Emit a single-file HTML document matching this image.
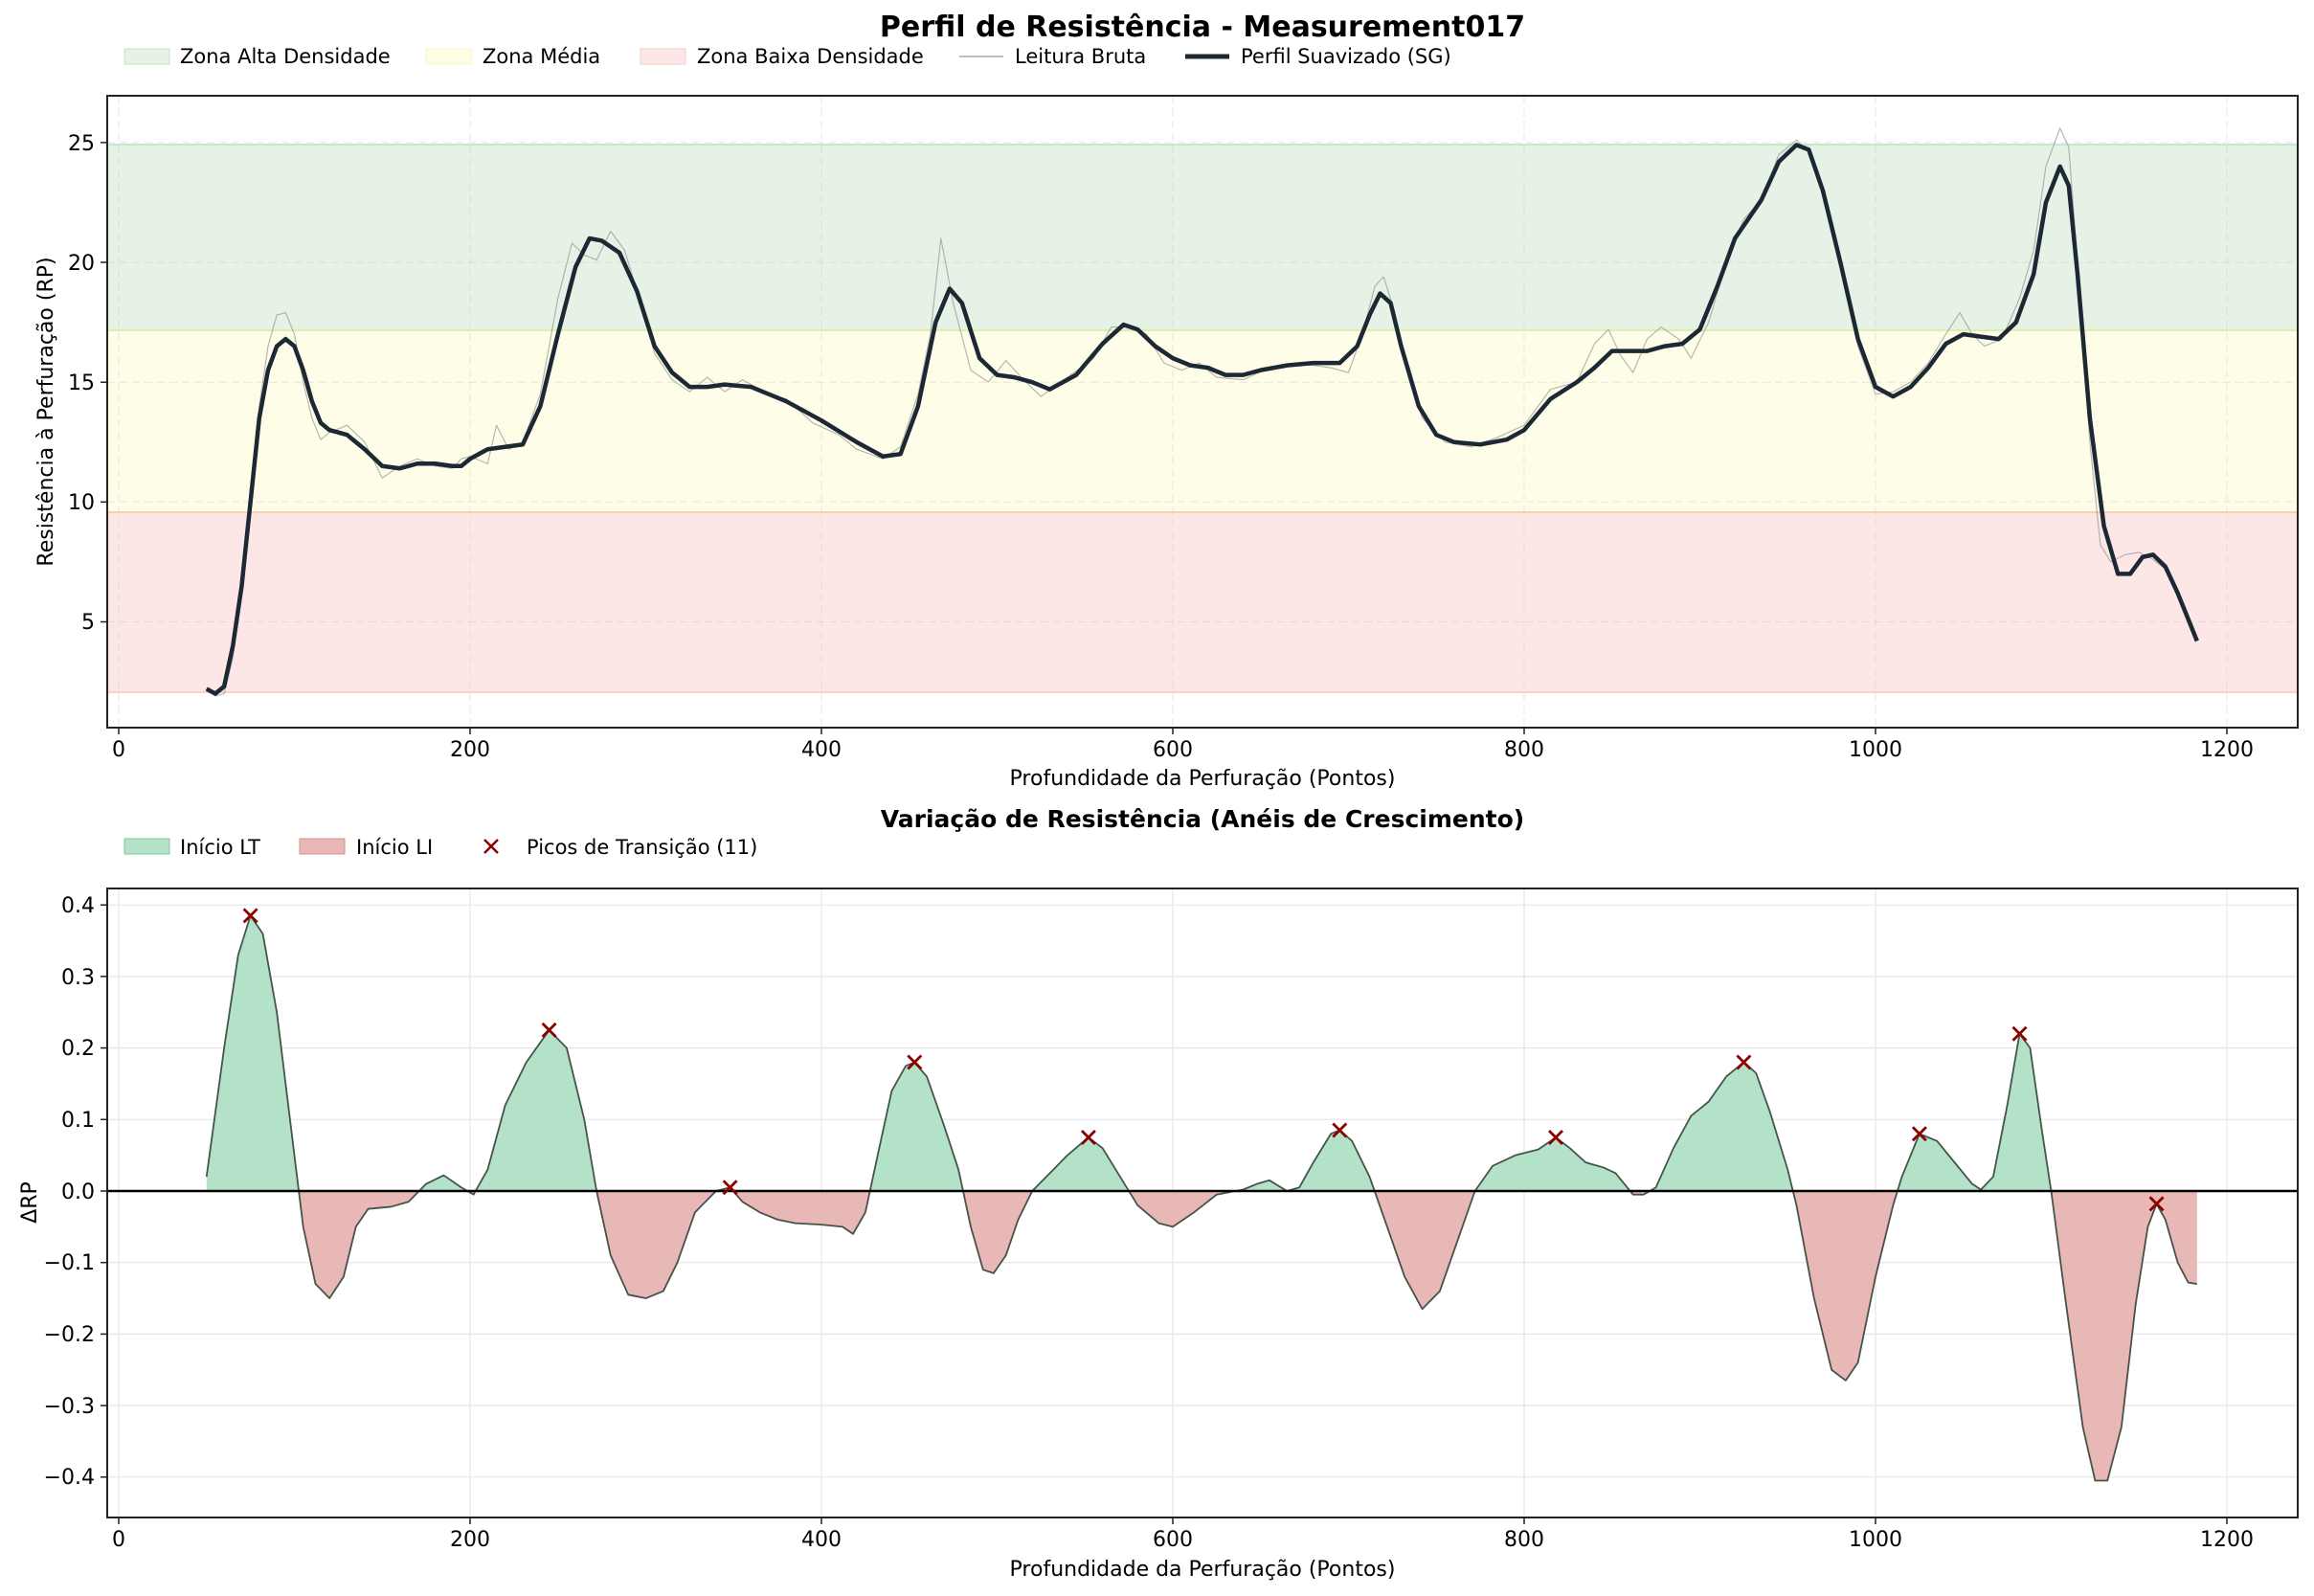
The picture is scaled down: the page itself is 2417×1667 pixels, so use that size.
<!DOCTYPE html>
<html><head><meta charset="utf-8"><style>
html,body{margin:0;padding:0;background:#fff}
svg{display:block}
text{font-family:"DejaVu Sans","Liberation Sans",sans-serif;fill:#000}
</style></head><body>
<svg width="2417" height="1667" viewBox="0 0 2417 1667" xmlns="http://www.w3.org/2000/svg">
<defs>
<clipPath id="c1"><rect x="112" y="100" width="2288" height="660"/></clipPath>
<clipPath id="c2"><rect x="112" y="928" width="2288" height="657"/></clipPath>
<clipPath id="pos"><rect x="112" y="928" width="2288" height="316"/></clipPath>
<clipPath id="neg"><rect x="112" y="1244" width="2288" height="341"/></clipPath>
</defs>
<rect width="2417" height="1667" fill="#fff"/>

<!-- TOP -->
<text x="1256" y="38" font-size="30" font-weight="bold" text-anchor="middle">Perfil de Resistência - Measurement017</text>
<g font-size="21">
<rect x="130" y="51" width="47" height="16" fill="#e5f2e5" stroke="#c5e3c5"/><text x="188" y="66">Zona Alta Densidade</text>
<rect x="445" y="51" width="47" height="16" fill="#fefee5" stroke="#f7f7c8"/><text x="504" y="66">Zona Média</text>
<rect x="669" y="51" width="47" height="16" fill="#fde6e6" stroke="#f8caca"/><text x="728" y="66">Zona Baixa Densidade</text>
<line x1="1002" y1="59" x2="1048" y2="59" stroke="#aaa" stroke-width="1.5"/><text x="1060" y="66">Leitura Bruta</text>
<line x1="1238" y1="59" x2="1284" y2="59" stroke="#1c2833" stroke-width="5"/><text x="1296" y="66">Perfil Suavizado (SG)</text>
</g>
<g clip-path="url(#c1)">
<rect x="112" y="151" width="2288" height="194" fill="#e5f2e5"/>
<line x1="112" y1="151" x2="2400" y2="151" stroke="#c8e6c8" stroke-width="2"/>
<rect x="112" y="345" width="2288" height="190" fill="#fefee8"/>
<line x1="112" y1="345" x2="2400" y2="345" stroke="#dfeeb0" stroke-width="2"/>
<rect x="112" y="535" width="2288" height="188" fill="#fde6e6"/>
<line x1="112" y1="535" x2="2400" y2="535" stroke="#f8d0b0" stroke-width="2"/>
<line x1="112" y1="723" x2="2400" y2="723" stroke="#f8d0d0" stroke-width="2"/>
<g stroke="#ccc" stroke-opacity="0.5" stroke-dasharray="8,5" stroke-width="1">
<line x1="124" y1="100" x2="124" y2="760"/><line x1="491" y1="100" x2="491" y2="760"/><line x1="858" y1="100" x2="858" y2="760"/><line x1="1225" y1="100" x2="1225" y2="760"/><line x1="1592" y1="100" x2="1592" y2="760"/><line x1="1959" y1="100" x2="1959" y2="760"/><line x1="2326" y1="100" x2="2326" y2="760"/>
<line x1="112" y1="649.5" x2="2400" y2="649.5"/><line x1="112" y1="524.3" x2="2400" y2="524.3"/><line x1="112" y1="399.2" x2="2400" y2="399.2"/><line x1="112" y1="274" x2="2400" y2="274"/><line x1="112" y1="148.9" x2="2400" y2="148.9"/>
</g>
<g transform="translate(124,774.6) scale(1.835,-25.03)" fill="none">
<path vector-effect="non-scaling-stroke" stroke="#999" stroke-opacity="0.7" stroke-width="1.2" stroke-linejoin="round" d="M50,2.2 L55,1.9 60,2.0 65,3.5 70,6.8 75,10.5 80,14 85,16.5 90,17.8 95,17.9 100,17 105,15 110,13.5 115,12.6 120,12.9 130,13.2 140,12.5 150,11.0 160,11.5 170,11.8 180,11.5 190,11.4 195,11.8 200,11.9 210,11.6 215,13.2 222,12.2 230,12.5 240,14.5 250,18.5 258,20.8 265,20.3 272,20.1 280,21.3 288,20.5 295,18.8 305,16.2 315,15.1 325,14.6 335,15.2 345,14.6 355,15.1 370,14.5 380,14.3 395,13.3 410,12.8 420,12.2 435,11.8 445,12.3 455,14.5 462,17 468,21 475,18.3 485,15.5 495,15 505,15.9 515,15.1 525,14.4 540,15.2 555,16 565,17.3 575,17.3 585,17 595,15.8 605,15.5 615,15.8 625,15.2 640,15.1 655,15.6 670,15.8 690,15.6 700,15.4 708,17 715,19 720,19.4 726,18 732,15.8 742,13.5 755,12.5 770,12.3 785,12.7 800,13.2 815,14.7 830,15.0 840,16.6 848,17.2 855,16.1 862,15.4 870,16.8 878,17.3 888,16.8 895,16 905,17.5 915,20 925,21.8 935,22.6 945,24.5 955,25.1 962,24.6 970,23 980,20 990,16.5 1000,14.5 1010,14.6 1020,15 1030,15.8 1040,17 1048,17.9 1055,17 1062,16.5 1072,16.8 1082,18.5 1090,20.5 1097,24 1105,25.6 1110,24.8 1116,19 1122,12.5 1128,8.2 1134,7.5 1142,7.8 1150,7.9 1158,7.6 1165,7.2 1172,6.2 1183,4.2"/>
<path vector-effect="non-scaling-stroke" stroke="#1c2833" stroke-width="4.5" stroke-linejoin="round" d="M50,2.2 L55,2.0 60,2.3 65,4 70,6.5 75,10 80,13.5 85,15.5 90,16.5 95,16.8 100,16.5 105,15.5 110,14.2 115,13.3 120,13.0 130,12.8 140,12.2 150,11.5 160,11.4 170,11.6 180,11.6 190,11.5 195,11.5 200,11.8 210,12.2 220,12.3 230,12.4 240,14 250,17 260,19.8 268,21.0 275,20.9 285,20.4 295,18.8 305,16.5 315,15.4 325,14.8 335,14.8 345,14.9 360,14.8 380,14.2 400,13.4 420,12.5 435,11.9 445,12.0 455,14 465,17.5 473,18.9 480,18.3 490,16 500,15.3 510,15.2 520,15.0 530,14.7 545,15.3 560,16.6 572,17.4 580,17.2 590,16.5 600,16.0 610,15.7 620,15.6 630,15.3 640,15.3 650,15.5 665,15.7 680,15.8 695,15.8 705,16.5 712,17.8 718,18.7 724,18.3 730,16.5 740,14 750,12.8 760,12.5 775,12.4 790,12.6 800,13.0 815,14.3 830,15.0 840,15.6 850,16.3 860,16.3 870,16.3 880,16.5 890,16.6 900,17.2 910,19 920,21 935,22.6 945,24.2 955,24.9 962,24.7 970,23 980,20 990,16.8 1000,14.8 1010,14.4 1020,14.8 1030,15.6 1040,16.6 1050,17.0 1060,16.9 1070,16.8 1080,17.5 1090,19.5 1097,22.5 1105,24.0 1110,23.2 1115,19.5 1122,13.5 1130,9.0 1138,7.0 1145,7.0 1152,7.7 1158,7.8 1165,7.3 1172,6.2 1183,4.2"/>
</g>
</g>
<rect x="112" y="100" width="2288" height="660" fill="none" stroke="#222" stroke-width="2"/>
<g stroke="#222" stroke-width="1.5">
<line x1="124" y1="760" x2="124" y2="767"/><line x1="491" y1="760" x2="491" y2="767"/><line x1="858" y1="760" x2="858" y2="767"/><line x1="1225" y1="760" x2="1225" y2="767"/><line x1="1592" y1="760" x2="1592" y2="767"/><line x1="1959" y1="760" x2="1959" y2="767"/><line x1="2326" y1="760" x2="2326" y2="767"/>
<line x1="105" y1="649.5" x2="112" y2="649.5"/><line x1="105" y1="524.3" x2="112" y2="524.3"/><line x1="105" y1="399.2" x2="112" y2="399.2"/><line x1="105" y1="274" x2="112" y2="274"/><line x1="105" y1="148.9" x2="112" y2="148.9"/>
</g>
<g font-size="22" text-anchor="middle">
<text x="124" y="790">0</text><text x="491" y="790">200</text><text x="858" y="790">400</text><text x="1225" y="790">600</text><text x="1592" y="790">800</text><text x="1959" y="790">1000</text><text x="2326" y="790">1200</text>
<text x="1256" y="820">Profundidade da Perfuração (Pontos)</text>
</g>
<g font-size="22" text-anchor="end">
<text x="99" y="657">5</text><text x="99" y="532">10</text><text x="99" y="407">15</text><text x="99" y="282">20</text><text x="99" y="157">25</text>
</g>
<text transform="translate(55,430) rotate(-90)" font-size="22" text-anchor="middle">Resistência à Perfuração (RP)</text>

<!-- BOTTOM -->
<text x="1256" y="864" font-size="25" font-weight="bold" text-anchor="middle">Variação de Resistência (Anéis de Crescimento)</text>
<g font-size="21">
<rect x="130" y="876" width="47" height="16" fill="#b3e2c8" stroke="#7fc8a0"/><text x="188" y="892">Início LT</text>
<rect x="313" y="876" width="47" height="16" fill="#e8b8b6" stroke="#d09090"/><text x="372" y="892">Início LI</text>
<path d="M506,877 L520,891 M520,877 L506,891" stroke="#8b0000" stroke-width="2.5"/><text x="550" y="892">Picos de Transição (11)</text>
</g>
<defs>
<path id="dp" d="M50,0 L50,0.02 60,0.2 68,0.33 75,0.385 82,0.36 90,0.25 100,0.05 105,-0.05 112,-0.13 120,-0.15 128,-0.12 135,-0.05 142,-0.025 155,-0.022 165,-0.015 175,0.01 185,0.022 195,0.005 202,-0.005 210,0.03 220,0.12 232,0.18 245,0.225 255,0.2 265,0.1 272,0 280,-0.09 290,-0.145 300,-0.15 310,-0.14 318,-0.1 328,-0.03 340,0 348,0.005 355,-0.015 365,-0.03 375,-0.04 385,-0.045 400,-0.047 412,-0.05 418,-0.06 425,-0.03 432,0.05 440,0.14 448,0.175 453,0.18 460,0.16 470,0.09 478,0.03 485,-0.05 492,-0.11 498,-0.115 505,-0.09 512,-0.04 520,0 530,0.025 540,0.05 552,0.075 560,0.06 570,0.02 580,-0.02 592,-0.045 600,-0.05 612,-0.03 625,-0.005 640,0.002 648,0.01 655,0.015 665,0 672,0.005 680,0.04 690,0.08 695,0.085 702,0.07 712,0.02 722,-0.05 732,-0.12 742,-0.165 752,-0.14 762,-0.07 772,0 782,0.035 795,0.05 808,0.058 818,0.075 826,0.06 835,0.04 845,0.033 852,0.025 862,-0.005 868,-0.005 875,0.005 885,0.06 895,0.105 905,0.125 915,0.16 925,0.18 932,0.165 940,0.11 950,0.03 955,-0.02 965,-0.15 975,-0.25 983,-0.265 990,-0.24 1000,-0.12 1010,-0.02 1015,0.02 1025,0.08 1035,0.07 1045,0.04 1055,0.01 1060,0.002 1067,0.02 1075,0.12 1082,0.22 1088,0.2 1095,0.08 1100,0 1108,-0.15 1118,-0.33 1125,-0.405 1132,-0.405 1140,-0.33 1148,-0.16 1155,-0.05 1160,-0.018 1165,-0.04 1172,-0.1 1178,-0.128 1183,-0.13 L1183,0 Z"/>
</defs>
<g clip-path="url(#c2)">
<g stroke="#e6e6e6" stroke-width="1.2">
<line x1="124" y1="928" x2="124" y2="1585"/><line x1="491" y1="928" x2="491" y2="1585"/><line x1="858" y1="928" x2="858" y2="1585"/><line x1="1225" y1="928" x2="1225" y2="1585"/><line x1="1592" y1="928" x2="1592" y2="1585"/><line x1="1959" y1="928" x2="1959" y2="1585"/><line x1="2326" y1="928" x2="2326" y2="1585"/>
<line x1="112" y1="945.2" x2="2400" y2="945.2"/><line x1="112" y1="1019.9" x2="2400" y2="1019.9"/><line x1="112" y1="1094.6" x2="2400" y2="1094.6"/><line x1="112" y1="1169.3" x2="2400" y2="1169.3"/><line x1="112" y1="1318.7" x2="2400" y2="1318.7"/><line x1="112" y1="1393.4" x2="2400" y2="1393.4"/><line x1="112" y1="1468.1" x2="2400" y2="1468.1"/><line x1="112" y1="1542.8" x2="2400" y2="1542.8"/>
</g>
</g>
<g clip-path="url(#pos)"><g transform="translate(124,1244) scale(1.835,-747)"><use href="#dp" fill="#b3e2c8"/></g></g>
<g clip-path="url(#neg)"><g transform="translate(124,1244) scale(1.835,-747)"><use href="#dp" fill="#e8b8b6"/></g></g>
<g transform="translate(124,1244) scale(1.835,-747)">
<path vector-effect="non-scaling-stroke" fill="none" stroke="#2a3a30" stroke-opacity="0.85" stroke-width="1.8" stroke-linejoin="round" d="M50,0.02 L60,0.2 68,0.33 75,0.385 82,0.36 90,0.25 100,0.05 105,-0.05 112,-0.13 120,-0.15 128,-0.12 135,-0.05 142,-0.025 155,-0.022 165,-0.015 175,0.01 185,0.022 195,0.005 202,-0.005 210,0.03 220,0.12 232,0.18 245,0.225 255,0.2 265,0.1 272,0 280,-0.09 290,-0.145 300,-0.15 310,-0.14 318,-0.1 328,-0.03 340,0 348,0.005 355,-0.015 365,-0.03 375,-0.04 385,-0.045 400,-0.047 412,-0.05 418,-0.06 425,-0.03 432,0.05 440,0.14 448,0.175 453,0.18 460,0.16 470,0.09 478,0.03 485,-0.05 492,-0.11 498,-0.115 505,-0.09 512,-0.04 520,0 530,0.025 540,0.05 552,0.075 560,0.06 570,0.02 580,-0.02 592,-0.045 600,-0.05 612,-0.03 625,-0.005 640,0.002 648,0.01 655,0.015 665,0 672,0.005 680,0.04 690,0.08 695,0.085 702,0.07 712,0.02 722,-0.05 732,-0.12 742,-0.165 752,-0.14 762,-0.07 772,0 782,0.035 795,0.05 808,0.058 818,0.075 826,0.06 835,0.04 845,0.033 852,0.025 862,-0.005 868,-0.005 875,0.005 885,0.06 895,0.105 905,0.125 915,0.16 925,0.18 932,0.165 940,0.11 950,0.03 955,-0.02 965,-0.15 975,-0.25 983,-0.265 990,-0.24 1000,-0.12 1010,-0.02 1015,0.02 1025,0.08 1035,0.07 1045,0.04 1055,0.01 1060,0.002 1067,0.02 1075,0.12 1082,0.22 1088,0.2 1095,0.08 1100,0 1108,-0.15 1118,-0.33 1125,-0.405 1132,-0.405 1140,-0.33 1148,-0.16 1155,-0.05 1160,-0.018 1165,-0.04 1172,-0.1 1178,-0.128 1183,-0.13"/>
</g>
<line x1="112" y1="1244" x2="2400" y2="1244" stroke="#000" stroke-width="2.5"/>
<g stroke="#8b0000" stroke-width="2.8">
<path d="M254.6,949.4 l14,14 m0,-14 l-14,14"/>
<path d="M566.6,1068.9 l14,14 m0,-14 l-14,14"/>
<path d="M755.6,1233.3 l14,14 m0,-14 l-14,14"/>
<path d="M948.3,1102.5 l14,14 m0,-14 l-14,14"/>
<path d="M1129.9,1181 l14,14 m0,-14 l-14,14"/>
<path d="M1392.3,1173.5 l14,14 m0,-14 l-14,14"/>
<path d="M1618,1181 l14,14 m0,-14 l-14,14"/>
<path d="M1814.4,1102.5 l14,14 m0,-14 l-14,14"/>
<path d="M1997.9,1177.2 l14,14 m0,-14 l-14,14"/>
<path d="M2102.5,1072.7 l14,14 m0,-14 l-14,14"/>
<path d="M2245.6,1250.4 l14,14 m0,-14 l-14,14"/>
</g>
<rect x="112" y="928" width="2288" height="657" fill="none" stroke="#222" stroke-width="2"/>
<g stroke="#222" stroke-width="1.5">
<line x1="124" y1="1585" x2="124" y2="1592"/><line x1="491" y1="1585" x2="491" y2="1592"/><line x1="858" y1="1585" x2="858" y2="1592"/><line x1="1225" y1="1585" x2="1225" y2="1592"/><line x1="1592" y1="1585" x2="1592" y2="1592"/><line x1="1959" y1="1585" x2="1959" y2="1592"/><line x1="2326" y1="1585" x2="2326" y2="1592"/>
<line x1="105" y1="945.2" x2="112" y2="945.2"/><line x1="105" y1="1019.9" x2="112" y2="1019.9"/><line x1="105" y1="1094.6" x2="112" y2="1094.6"/><line x1="105" y1="1169.3" x2="112" y2="1169.3"/><line x1="105" y1="1244" x2="112" y2="1244"/><line x1="105" y1="1318.7" x2="112" y2="1318.7"/><line x1="105" y1="1393.4" x2="112" y2="1393.4"/><line x1="105" y1="1468.1" x2="112" y2="1468.1"/><line x1="105" y1="1542.8" x2="112" y2="1542.8"/>
</g>
<g font-size="22" text-anchor="middle">
<text x="124" y="1615">0</text><text x="491" y="1615">200</text><text x="858" y="1615">400</text><text x="1225" y="1615">600</text><text x="1592" y="1615">800</text><text x="1959" y="1615">1000</text><text x="2326" y="1615">1200</text>
<text x="1256" y="1646">Profundidade da Perfuração (Pontos)</text>
</g>
<g font-size="22" text-anchor="end">
<text x="99" y="953">0.4</text><text x="99" y="1028">0.3</text><text x="99" y="1102">0.2</text><text x="99" y="1177">0.1</text><text x="99" y="1252">0.0</text><text x="99" y="1326">−0.1</text><text x="99" y="1401">−0.2</text><text x="99" y="1476">−0.3</text><text x="99" y="1550">−0.4</text>
</g>
<text transform="translate(38,1256) rotate(-90)" font-size="22" text-anchor="middle">ΔRP</text>
</svg>
</body></html>
